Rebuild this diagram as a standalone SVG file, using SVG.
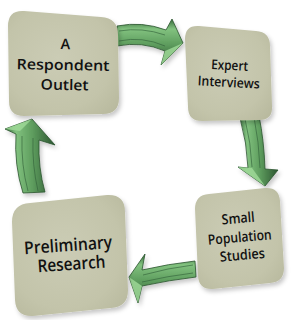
<svg xmlns="http://www.w3.org/2000/svg" width="294" height="320" viewBox="0 0 294 320">
<defs>
<radialGradient id="boxg" cx="0.45" cy="0.45" r="0.7">
<stop offset="0" stop-color="#cbccb5"/>
<stop offset="0.7" stop-color="#c3c4aa"/>
<stop offset="1" stop-color="#b9ba9f"/>
</radialGradient>
<filter id="sh" x="-20%" y="-20%" width="140%" height="140%">
<feDropShadow dx="2" dy="3" stdDeviation="2" flood-color="#000" flood-opacity="0.22"/>
</filter>
<linearGradient id="gv" x1="0" y1="0" x2="0" y2="1">
<stop offset="0" stop-color="#35693a"/>
<stop offset="0.22" stop-color="#82c27f"/>
<stop offset="0.55" stop-color="#5e9d5e"/>
<stop offset="1" stop-color="#2c5530"/>
</linearGradient>
<linearGradient id="gh" x1="0" y1="0" x2="1" y2="0">
<stop offset="0" stop-color="#35693a"/>
<stop offset="0.22" stop-color="#82c27f"/>
<stop offset="0.55" stop-color="#5e9d5e"/>
<stop offset="1" stop-color="#2c5530"/>
</linearGradient>
<style>
.box{fill:url(#boxg);filter:url(#sh)}
.t{font-family:"Open Sans","Noto Sans",sans-serif;font-weight:600;fill:#111;text-anchor:middle}
.arr{stroke:#2a532d;stroke-width:0.8;stroke-linejoin:round;filter:url(#sh)}
.hi{fill:#9ed897;opacity:0.85}
.in{fill:none;stroke:#33623a;stroke-width:0.8;opacity:0.8}
</style>
</defs>

<g id="connectors">
<g id="arrow-top">
<path class="arr" fill="url(#gv)" d="M117 26 Q142 21 166 30 L172 19 L183 43 L161 65 L165 51 Q142 41 117 46 Z"/>
<path class="in" d="M119 31 Q142 27 165 35 M119 41 Q142 36 165 46"/>
<path class="hi" d="M165 51 L183 43 L161 65 Z"/>
</g>
<g id="arrow-right">
<path class="arr" fill="url(#gh)" d="M240 118 L259 116 Q264 140 265 169 L278 170 L265 186 L238 167 L248 168 Q247 143 240 118 Z"/>
<path class="in" d="M245 119 Q251 143 252 167 M254 117 Q259 142 260 168"/>
<path class="hi" d="M238 167 L265 186 L252 168 Z"/>
</g>
<g id="arrow-bottom">
<path class="arr" fill="url(#gv)" d="M195 261 L196 277 Q170 280 142 286 L138 303 L129 277 L145 254 L142 270 Q168 264 195 261 Z"/>
<path class="in" d="M193 265 Q168 268 143 275 M193 273 Q168 276 142 282"/>
<path class="hi" d="M129 277 L138 303 L142 286 Z"/>
</g>
<g id="arrow-left">
<path class="arr" fill="url(#gh)" d="M23 193 Q14 165 16 134 L5 129 L32 119 L55 145 L39 140 Q38 168 45 192 Z"/>
<path class="in" d="M28 191 Q21 165 22 136 M38 191 Q32 165 33 138"/>
<path class="hi" d="M5 129 L32 119 L20 131 Z"/>
</g>
</g>

<g id="node-respondent-outlet">
<path class="box" d="M24 11 L101 17 Q118 18 118 35 L119 98 Q119 114 103 114 L24 116 Q9 116 9 101 L8 26 Q8 10 24 11 Z"/>
<g transform="rotate(1 64 65)">
<text class="t" x="65" y="49" font-size="14.5">A</text>
<text class="t" x="63" y="70" font-size="14.5" textLength="93" lengthAdjust="spacingAndGlyphs">Respondent</text>
<text class="t" x="65" y="90" font-size="14.5" textLength="48" lengthAdjust="spacingAndGlyphs">Outlet</text>
</g>
</g>

<g id="node-expert-interviews">
<path class="box" d="M199 26 L256 31 Q270 32 270 46 L272 106 Q273 120 259 120 L202 121 Q188 121 188 107 L185 39 Q185 25 199 26 Z"/>
<g transform="rotate(3 229 78)">
<text class="t" x="229" y="70" font-size="13.5" textLength="37" lengthAdjust="spacingAndGlyphs">Expert</text>
<text class="t" x="229" y="87" font-size="13.5" textLength="62" lengthAdjust="spacingAndGlyphs">Interviews</text>
</g>
</g>

<g id="node-small-population-studies">
<path class="box" d="M209 194 L265 188 Q279 187 280 201 L284 268 Q284 282 270 283 L213 289 Q199 290 198 276 L195 209 Q195 195 209 194 Z"/>
<g transform="rotate(-5 240 240)">
<text class="t" x="240" y="223" font-size="14" textLength="33" lengthAdjust="spacingAndGlyphs">Small</text>
<text class="t" x="240" y="242" font-size="14" textLength="64" lengthAdjust="spacingAndGlyphs">Population</text>
<text class="t" x="241" y="260" font-size="14" textLength="45" lengthAdjust="spacingAndGlyphs">Studies</text>
</g>
</g>

<g id="node-preliminary-research">
<path class="box" d="M30 203 L107 195 Q125 194 125 212 L128 290 Q128 307 111 308 L33 316 Q16 317 15 300 L12 222 Q12 204 30 203 Z"/>
<g transform="rotate(-4 70 258)">
<text class="t" x="69" y="251" font-size="17.5" textLength="88" lengthAdjust="spacingAndGlyphs">Preliminary</text>
<text class="t" x="71" y="270" font-size="17.5" textLength="68" lengthAdjust="spacingAndGlyphs">Research</text>
</g>
</g>
</svg>
